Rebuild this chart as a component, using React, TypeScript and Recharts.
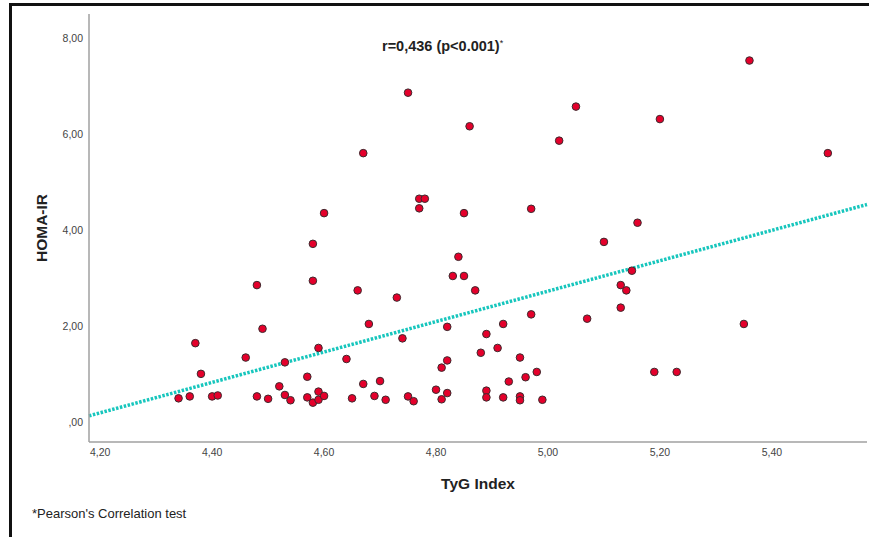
import { ScatterChart, Scatter, XAxis, YAxis, ReferenceLine, Label } from "recharts";

// TyG index (x) and HOMA-IR (y)
const tygIndex = [
  4.34, 4.36, 4.37, 4.38, 4.40, 4.41, 4.46, 4.48, 4.48, 4.49,
  4.50, 4.52, 4.53, 4.53, 4.54, 4.57, 4.57, 4.58, 4.58, 4.59,
  4.59, 4.58, 4.59, 4.60, 4.60, 4.64, 4.65, 4.66, 4.67, 4.68,
  4.69, 4.70, 4.71, 4.73, 4.74, 4.75, 4.76, 4.77, 4.78, 4.77,
  4.80, 4.81, 4.81, 4.82, 4.82, 4.82, 4.84, 4.83, 4.85, 4.85,
  4.87, 4.88, 4.89, 4.89, 4.89, 4.91, 4.92, 4.92, 4.93, 4.95,
  4.95, 4.95, 4.96, 4.97, 4.97, 4.98, 4.99, 5.07, 5.10, 5.13,
  5.14, 5.13, 5.15, 5.16, 5.19, 5.23, 5.35, 4.75, 4.86, 4.67,
  5.02, 5.05, 5.20, 5.36, 5.50,
];
const homaIr = [
  0.49, 0.53, 1.64, 1.00, 0.53, 0.55, 1.34, 0.53, 2.85, 1.94,
  0.48, 0.74, 1.24, 0.56, 0.45, 0.94, 0.51, 2.94, 3.71, 1.54,
  0.63, 0.40, 0.46, 4.35, 0.54, 1.31, 0.49, 2.74, 0.79, 2.04,
  0.54, 0.85, 0.46, 2.59, 1.74, 0.53, 0.43, 4.65, 4.65, 4.45,
  0.67, 1.13, 0.47, 1.98, 1.28, 0.60, 3.44, 3.04, 3.04, 4.35,
  2.74, 1.44, 1.83, 0.65, 0.51, 1.54, 2.04, 0.51, 0.84, 1.34,
  0.53, 0.45, 0.93, 2.24, 4.44, 1.04, 0.46, 2.15, 3.75, 2.85,
  2.74, 2.38, 3.15, 4.15, 1.04, 1.04, 2.04, 6.86, 6.16, 5.60,
  5.86, 6.57, 6.31, 7.53, 5.60,
];

// linear fit line end points
const fitLine = [
  { x: 4.18, y: 0.125 },
  { x: 5.57, y: 4.53 },
];

const xTicks = [4.2, 4.4, 4.6, 4.8, 5.0, 5.2, 5.4];
const yTicks = [0, 2, 4, 6, 8];

const points = tygIndex.map((x, i) => ({ x, y: homaIr[i] }));

const fmt = (v: number) => (v === 0 ? ",00" : v.toFixed(2).replace(".", ","));

const font = "Arial, 'Liberation Sans', sans-serif";
const tickStyle = { fontSize: 10.5, fill: "#444", fontFamily: font };

export default function App() {
  return (
    <div style={{ position: "absolute", left: 0, top: 0, width: 869, height: 537, overflow: "hidden", background: "#fff" }}>
      <div
        style={{
          position: "absolute",
          left: 9,
          top: 3,
          width: 900,
          height: 600,
          border: "3px solid #111",
          boxSizing: "border-box",
        }}
      />
      <ScatterChart width={869} height={537} margin={{ top: 14, right: 2, bottom: 0, left: 0 }}>
        <XAxis
          type="number"
          dataKey="x"
          domain={[4.18, 5.57]}
          ticks={xTicks}
          tickFormatter={fmt}
          allowDataOverflow
          height={95}
          tickLine={false}
          tickSize={4}
          tickMargin={3}
          axisLine={{ stroke: "#a0a0a0", strokeWidth: 1.5 }}
          tick={tickStyle}
        >
          <Label
            value="TyG Index"
            position="insideTop"
            offset={36}
            style={{ fontSize: 15.5, fontWeight: 700, fill: "#222", fontFamily: font }}
          />
        </XAxis>
        <YAxis
          type="number"
          dataKey="y"
          domain={[-0.42, 8.5]}
          ticks={yTicks}
          tickFormatter={fmt}
          allowDataOverflow
          width={89}
          tickLine={false}
          tickSize={4}
          tickMargin={2}
          axisLine={{ stroke: "#a0a0a0", strokeWidth: 1.5 }}
          tick={tickStyle}
        >
          <Label
            value="HOMA-IR"
            angle={-90}
            position="insideLeft"
            offset={41}
            style={{ fontSize: 15.5, fontWeight: 700, fill: "#222", textAnchor: "middle", fontFamily: font }}
          />
        </YAxis>
        <ReferenceLine
          segment={fitLine}
          stroke="#17c6bd"
          strokeWidth={3.5}
          strokeDasharray="2.5 1.5"
        />
        <Scatter
          data={points}
          isAnimationActive={false}
          shape={(p: any) => (
            <circle cx={p.cx} cy={p.cy} r={3.8} fill="#e4002b" stroke="#3d2a2e" strokeWidth={1} />
          )}
        />
      </ScatterChart>
      <div
        style={{
          position: "absolute",
          left: 382,
          top: 38,
          fontFamily: font,
          fontSize: 14.5,
          fontWeight: 700,
          color: "#222",
          whiteSpace: "nowrap",
        }}
      >
        r=0,436 (p&lt;0.001)<span style={{ fontSize: 9, verticalAlign: "top", fontWeight: 400 }}>*</span>
      </div>
      <div
        style={{
          position: "absolute",
          left: 32,
          top: 506,
          fontFamily: font,
          fontSize: 13,
          color: "#222",
          whiteSpace: "nowrap",
        }}
      >
        *Pearson's Correlation test
      </div>
    </div>
  );
}
